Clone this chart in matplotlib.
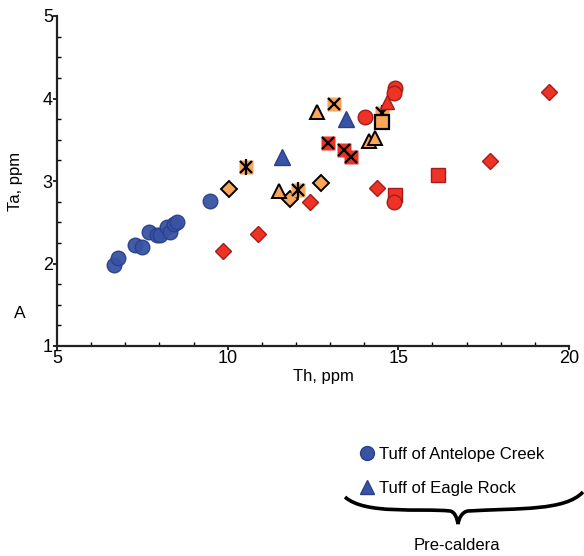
import matplotlib
matplotlib.use("Agg")
import matplotlib.pyplot as plt
from matplotlib.lines import Line2D
from matplotlib.path import Path
from matplotlib.patches import PathPatch
from matplotlib.ticker import MultipleLocator

plt.rcParams["font.family"] = ["Liberation Sans", "DejaVu Sans"]

BLUE, BLUE_E = "#3953A4", "#2A3F8C"
RED, RED_E = "#EE3224", "#A51C1C"
ORANGE = "#F9A55A"

# ---------- data (Th, Ta ppm) ----------
ac_th = [6.67, 6.79, 7.29, 7.49, 7.70, 7.93, 8.02, 8.22, 8.31, 8.43, 8.52, 9.48]
ac_ta = [1.98, 2.07, 2.22, 2.20, 2.38, 2.35, 2.35, 2.44, 2.38, 2.48, 2.50, 2.76]
er_th = [11.59, 13.47]
er_ta = [3.29, 3.75]

or_dia_th = [10.04, 11.83, 12.73]
or_dia_ta = [2.90, 2.78, 2.97]
or_tri_th = [11.50, 12.62, 14.14, 14.32]
or_tri_ta = [2.88, 3.84, 3.48, 3.52]
or_ast_th = [10.54, 12.06, 14.52]
or_ast_ta = [3.17, 2.89, 3.83]
or_x_th = [13.12]
or_x_ta = [3.93]
or_sq_th = [14.52]
or_sq_ta = [3.71]

rd_dia_th = [9.86, 10.89, 12.41, 14.38, 17.69, 19.41]
rd_dia_ta = [2.15, 2.36, 2.75, 2.91, 3.24, 4.08]
rd_sq_th = [14.90, 16.16]
rd_sq_ta = [2.83, 3.07]
rd_cir_th = [14.87, 14.02, 14.90, 14.87]
rd_cir_ta = [2.75, 3.78, 4.13, 4.07]
rd_tri_th = [14.67]
rd_tri_ta = [3.96]
rd_x_th = [12.94, 13.41, 13.61]
rd_x_ta = [3.46, 3.38, 3.29]

fig = plt.figure(figsize=(5.84, 5.56), dpi=100)
ax = fig.add_axes([57 / 584, 1 - 346 / 556, 512 / 584, 330 / 556])

# orange group
ax.plot(or_dia_th, or_dia_ta, "D", ms=8, mfc=ORANGE, mec="black", mew=1.4, ls="none")
ax.plot(or_tri_th, or_tri_ta, "^", ms=10, mfc=ORANGE, mec="black", mew=1.4, ls="none")
ax.plot(or_ast_th + or_x_th, or_ast_ta + or_x_ta, "s", ms=10, mfc=ORANGE, mec="none", ls="none")
ax.plot(or_ast_th + or_x_th, or_ast_ta + or_x_ta, "x", ms=9, mec="black", mew=1.6, ls="none")
ax.plot(or_ast_th, or_ast_ta, "|", ms=12, mec="black", mew=1.6, ls="none")
ax.plot(or_sq_th, or_sq_ta, "s", ms=10, mfc=ORANGE, mec="black", mew=1.6, ls="none")

# red group
ax.plot(rd_dia_th, rd_dia_ta, "D", ms=8, mfc=RED, mec=RED_E, mew=1, ls="none")
ax.plot(rd_sq_th, rd_sq_ta, "s", ms=10, mfc=RED, mec=RED_E, mew=1, ls="none")
ax.plot(rd_cir_th, rd_cir_ta, "o", ms=10.5, mfc=RED, mec=RED_E, mew=1, ls="none")
ax.plot(rd_tri_th, rd_tri_ta, "^", ms=10, mfc=RED, mec=RED_E, mew=1, ls="none")
ax.plot(rd_x_th, rd_x_ta, "s", ms=10, mfc=RED, mec="none", ls="none")
ax.plot(rd_x_th, rd_x_ta, "x", ms=9, mec="black", mew=1.6, ls="none")

# blue group
ax.plot(ac_th, ac_ta, "o", ms=10.5, mfc=BLUE, mec=BLUE_E, mew=1, alpha=0.95, ls="none")
ax.plot(er_th, er_ta, "^", ms=11, mfc=BLUE, mec=BLUE_E, mew=1, ls="none")

ax.set_xlim(5, 20)
ax.set_ylim(1, 5)
ax.xaxis.set_major_locator(MultipleLocator(5))
ax.xaxis.set_minor_locator(MultipleLocator(1))
ax.yaxis.set_major_locator(MultipleLocator(1))
ax.yaxis.set_minor_locator(MultipleLocator(0.25))
for s in ("top", "right"):
    ax.spines[s].set_visible(False)
for s in ("left", "bottom"):
    ax.spines[s].set_linewidth(1.6)
    ax.spines[s].set_color("#222222")
ax.tick_params(which="major", direction="out", length=3, width=1.2, labelsize=13, pad=0)
ax.tick_params(which="minor", direction="in", length=3, width=1)
ax.set_xlabel("Th, ppm", fontsize=12, labelpad=2)
ax.xaxis.set_label_coords(0.52, -0.07)
ax.set_ylabel("Ta, ppm", fontsize=12, labelpad=14)
fig.text(20 / 584, 1 - 313 / 556, "A", fontsize=12.5, ha="center", va="center")

# legend below
handles = [
    Line2D([], [], marker="o", ls="none", ms=10, mfc=BLUE, mec=BLUE_E),
    Line2D([], [], marker="^", ls="none", ms=10, mfc=BLUE, mec=BLUE_E),
]
fig.legend(handles, ["Tuff of Antelope Creek", "Tuff of Eagle Rock"],
           loc="upper left", bbox_to_anchor=(350 / 584, 1 - 440 / 556),
           frameon=False, fontsize=12, handletextpad=0.15, labelspacing=1.15,
           borderaxespad=0, handlelength=1.2)

# brace
verts = [(345, 497), (365, 515), (420, 508), (450, 511),
         (455, 512), (457, 518), (458, 524),
         (459, 518), (462, 512), (468, 511),
         (520, 508), (565, 511), (583, 492)]
codes = [Path.MOVETO] + [Path.CURVE4] * 12
fverts = [(x / 584, 1 - y / 556) for x, y in verts]
fig.patches.append(PathPatch(Path(fverts, codes), transform=fig.transFigure,
                             fill=False, lw=2.6, ec="black", figure=fig,
                             joinstyle="miter"))
fig.text(457 / 584, 1 - 545 / 556, "Pre-caldera", fontsize=12, ha="center", va="center")

fig.savefig("out.png", dpi=100)
